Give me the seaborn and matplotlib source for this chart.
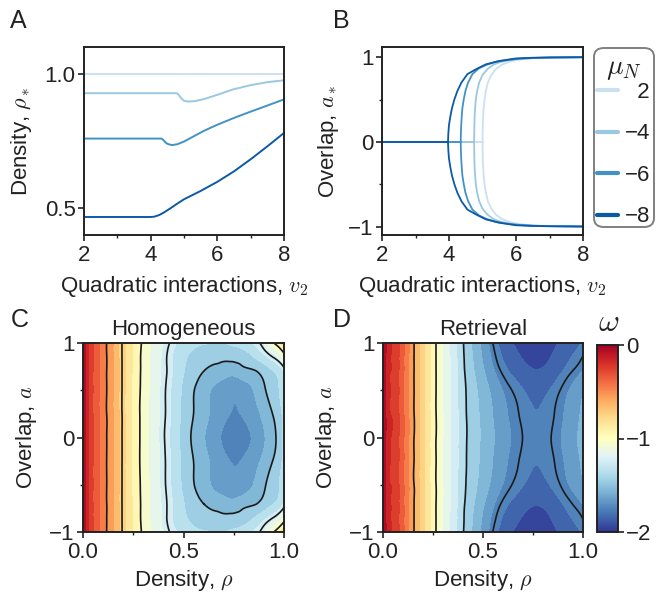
import numpy as np
import pandas as pd
import matplotlib
matplotlib.use("Agg")
import matplotlib.pyplot as plt
import matplotlib.tri as mtri
import seaborn as sns
from matplotlib.lines import Line2D
from matplotlib.colors import Normalize
from matplotlib.cm import ScalarMappable
from matplotlib.patches import FancyBboxPatch

# ---------------- data ----------------
mu_labels = ["  2", "\u22124", "\u22126", "\u22128"]
line_colors = ["#cde0f1", "#9ac8e0", "#4292c6", "#0b5aa8"]

# Panel A: density rho_* vs v2
A_v2_mu2 = [2.0, 8.0]
A_rho_mu2 = [0.999, 0.999]
A_v2_mu4 = [2.0, 4.78, 4.82, 4.87, 4.93, 5.0, 5.12, 5.3, 5.6, 6.0, 6.47, 7.0, 7.5, 8.0]
A_rho_mu4 = [0.928, 0.928, 0.925, 0.917, 0.907, 0.900, 0.897, 0.898, 0.906, 0.922, 0.942, 0.958, 0.969, 0.976]
A_v2_mu6 = [2.0, 4.33, 4.37, 4.42, 4.48, 4.56, 4.65, 4.8, 5.0, 5.3, 5.6, 5.97, 6.5, 6.97, 7.5, 8.0]
A_rho_mu6 = [0.759, 0.759, 0.755, 0.748, 0.741, 0.737, 0.735, 0.738, 0.748, 0.768, 0.788, 0.809, 0.836, 0.858, 0.882, 0.905]
A_v2_mu8 = [2.0, 3.98, 4.1, 4.25, 4.4, 4.6, 4.8, 5.0, 5.5, 6.0, 6.5, 7.0, 7.5, 8.0]
A_rho_mu8 = [0.467, 0.467, 0.468, 0.474, 0.484, 0.500, 0.517, 0.533, 0.564, 0.598, 0.637, 0.682, 0.730, 0.780]

# Panel B: overlap a_* vs v2 (upper branch; lower branch is its mirror image)
B_v2_mu2 = [5.0, 5.003, 5.008, 5.02, 5.035, 5.06, 5.1, 5.16, 5.25, 5.4, 5.57, 5.8, 6.01, 6.3, 6.61, 7.2, 8.0]
B_a_mu2 = [0.0, 0.1, 0.2, 0.3, 0.4, 0.5, 0.6, 0.7, 0.78, 0.86, 0.91, 0.945, 0.965, 0.98, 0.99, 0.996, 0.999]
B_v2_mu4 = [4.75, 4.753, 4.757, 4.765, 4.78, 4.8, 4.84, 4.9, 5.0, 5.15, 5.32, 5.55, 5.81, 6.2, 6.6, 7.2, 8.0]
B_a_mu4 = [0.0, 0.1, 0.2, 0.3, 0.4, 0.5, 0.6, 0.7, 0.79, 0.86, 0.91, 0.945, 0.965, 0.983, 0.992, 0.997, 0.999]
B_v2_mu6 = [4.35, 4.355, 4.365, 4.38, 4.40, 4.44, 4.49, 4.57, 4.7, 4.9, 5.12, 5.4, 5.71, 6.1, 6.5, 7.0, 8.0]
B_a_mu6 = [0.0, 0.1, 0.2, 0.3, 0.4, 0.5, 0.6, 0.7, 0.8, 0.87, 0.91, 0.945, 0.965, 0.982, 0.99, 0.995, 0.999]
B_v2_mu8 = [3.97, 3.98, 4.0, 4.04, 4.09, 4.16, 4.25, 4.37, 4.55, 4.82, 5.1, 5.5, 6.0, 6.5, 7.0, 8.0]
B_a_mu8 = [0.0, 0.1, 0.2, 0.3, 0.4, 0.5, 0.6, 0.7, 0.8, 0.86, 0.915, 0.955, 0.985, 0.993, 0.997, 1.0]

# Panels C, D: omega(rho, a) read on a grid (rows for a >= 0; symmetric in a)
rho_grid = [0, 0.02, 0.05, 0.1, 0.15, 0.2, 0.25, 0.3, 0.35, 0.4, 0.45, 0.5,
            0.55, 0.6, 0.65, 0.7, 0.75, 0.8, 0.85, 0.9, 0.95, 0.98, 1.0]
a_rows = [0.0, 0.25, 0.5, 0.7, 0.85, 1.0]

C_a000 = [0, -0.15, -0.30, -0.45, -0.60, -0.77, -0.92, -1.04, -1.15, -1.24, -1.34, -1.44,
          -1.52, -1.59, -1.66, -1.715, -1.745, -1.73, -1.685, -1.61, -1.52, -1.45, -1.38]
C_a025 = [0, -0.15, -0.30, -0.45, -0.60, -0.77, -0.92, -1.04, -1.145, -1.232, -1.328, -1.424,
          -1.50, -1.565, -1.625, -1.68, -1.705, -1.69, -1.64, -1.57, -1.49, -1.43, -1.365]
C_a050 = [0, -0.15, -0.30, -0.45, -0.60, -0.77, -0.917, -1.035, -1.143, -1.231, -1.325, -1.42,
          -1.495, -1.56, -1.615, -1.66, -1.685, -1.655, -1.595, -1.515, -1.445, -1.39, -1.33]
C_a070 = [0, -0.15, -0.30, -0.45, -0.60, -0.77, -0.915, -1.03, -1.135, -1.22, -1.31, -1.395,
          -1.455, -1.50, -1.53, -1.55, -1.565, -1.53, -1.51, -1.46, -1.40, -1.35, -1.29]
C_a085 = [0, -0.15, -0.30, -0.45, -0.60, -0.77, -0.915, -1.03, -1.135, -1.22, -1.31, -1.38,
          -1.43, -1.46, -1.47, -1.48, -1.47, -1.45, -1.40, -1.33, -1.24, -1.16, -1.08]
C_a100 = [0, -0.15, -0.30, -0.45, -0.60, -0.77, -0.91, -1.02, -1.12, -1.20, -1.28, -1.33,
          -1.37, -1.39, -1.40, -1.40, -1.38, -1.35, -1.29, -1.20, -1.00, -0.90, -0.80]

D_a000 = [0, -0.14, -0.22, -0.38, -0.58, -0.77, -0.95, -1.10, -1.23, -1.36, -1.45, -1.52,
          -1.59, -1.66, -1.71, -1.752, -1.78, -1.775, -1.742, -1.69, -1.63, -1.59, -1.56]
D_a025 = [0, -0.14, -0.22, -0.38, -0.58, -0.77, -0.95, -1.10, -1.231, -1.363, -1.455, -1.529,
          -1.603, -1.674, -1.725, -1.767, -1.795, -1.79, -1.756, -1.705, -1.646, -1.607, -1.578]
D_a050 = [0, -0.14, -0.22, -0.38, -0.58, -0.77, -0.95, -1.101, -1.234, -1.368, -1.466, -1.547,
          -1.628, -1.703, -1.755, -1.797, -1.825, -1.82, -1.785, -1.734, -1.677, -1.642, -1.614]
D_a070 = [0, -0.14, -0.22, -0.38, -0.58, -0.77, -0.95, -1.103, -1.239, -1.379, -1.489, -1.586,
          -1.684, -1.765, -1.82, -1.862, -1.89, -1.885, -1.847, -1.797, -1.746, -1.717, -1.692]
D_a085 = [0, -0.14, -0.22, -0.38, -0.58, -0.77, -0.95, -1.105, -1.242, -1.386, -1.504, -1.613,
          -1.722, -1.807, -1.865, -1.907, -1.935, -1.93, -1.889, -1.84, -1.793, -1.768, -1.746]
D_a100 = [0, -0.14, -0.22, -0.38, -0.58, -0.77, -0.95, -1.106, -1.245, -1.392, -1.517, -1.634,
          -1.752, -1.841, -1.90, -1.942, -1.97, -1.965, -1.923, -1.874, -1.83, -1.809, -1.788]

C_line_levels = [-1.5, -1.25, -1.0, -0.75, -0.5]
D_line_levels = [-1.75, -1.4, -1.0, -0.6]
cbar_ticks = [0, -1, -2]

# ---------------- style ----------------
sns.set_theme(style="ticks")
FS = 16
plt.rcParams.update({
    "font.family": ["Liberation Sans", "DejaVu Sans"],
    "mathtext.fontset": "cm",
    "font.size": FS,
    "axes.labelsize": FS,
    "xtick.labelsize": FS,
    "ytick.labelsize": FS,
    "axes.linewidth": 1.4,
    "axes.edgecolor": "#222222",
    "xtick.color": "#222222",
    "ytick.color": "#222222",
    "text.color": "#222222",
    "axes.labelcolor": "#222222",
    "xtick.major.size": 4, "ytick.major.size": 4,
    "xtick.minor.size": 2, "ytick.minor.size": 2,
    "xtick.major.width": 1.2, "ytick.major.width": 1.2,
    "xtick.minor.width": 1.0, "ytick.minor.width": 1.0,
    "xtick.major.pad": 3, "ytick.major.pad": 2,
    "axes.labelpad": 5,
    "axes.unicode_minus": True,
})

W, H = 667, 593
fig = plt.figure(figsize=(W / 100, H / 100), dpi=100)

def box(x0, y0, x1, y1):
    return [x0 / W, 1 - y1 / H, (x1 - x0) / W, (y1 - y0) / H]

# ---------------- panel A ----------------
axA = fig.add_axes(box(84, 47, 284, 235))
dfA = pd.concat([
    pd.DataFrame({"v2": A_v2_mu2, "val": A_rho_mu2, "mu": mu_labels[0]}),
    pd.DataFrame({"v2": A_v2_mu4, "val": A_rho_mu4, "mu": mu_labels[1]}),
    pd.DataFrame({"v2": A_v2_mu6, "val": A_rho_mu6, "mu": mu_labels[2]}),
    pd.DataFrame({"v2": A_v2_mu8, "val": A_rho_mu8, "mu": mu_labels[3]}),
], ignore_index=True)
sns.lineplot(data=dfA, x="v2", y="val", hue="mu", hue_order=mu_labels,
             palette=line_colors, estimator=None, sort=False, legend=False,
             linewidth=1.4, ax=axA)
axA.set_xlim(2, 8)
axA.set_ylim(0.4, 1.1)
axA.set_xticks([2, 4, 6, 8])
axA.set_xticks([3, 5, 7], minor=True)
axA.set_yticks([0.5, 1.0])
axA.set_yticklabels(["0.5", "1.0"])
axA.set_xlabel(r"Quadratic interactions, $v_2$", labelpad=6)
axA.set_ylabel(r"Density, $\rho_*$", labelpad=8)

# ---------------- panel B ----------------
axB = fig.add_axes(box(382, 47, 583, 235))
B_sets = [(B_v2_mu2, B_a_mu2), (B_v2_mu4, B_a_mu4), (B_v2_mu6, B_a_mu6), (B_v2_mu8, B_a_mu8)]
parts = []
for lab, (vv, aa) in zip(mu_labels, B_sets):
    parts.append(pd.DataFrame({"v2": [2.0, vv[0]], "val": [0.0, 0.0], "mu": lab, "br": lab + "z"}))
    parts.append(pd.DataFrame({"v2": vv, "val": aa, "mu": lab, "br": lab + "u"}))
    parts.append(pd.DataFrame({"v2": vv, "val": [-x for x in aa], "mu": lab, "br": lab + "l"}))
dfB = pd.concat(parts, ignore_index=True)
sns.lineplot(data=dfB, x="v2", y="val", hue="mu", hue_order=mu_labels, units="br",
             palette=line_colors, estimator=None, sort=False, legend=False,
             linewidth=1.3, ax=axB)
axB.set_xlim(2, 8)
axB.set_ylim(-1.1, 1.12)
axB.set_xticks([2, 4, 6, 8])
axB.set_xticks([3, 5, 7], minor=True)
axB.set_yticks([-1, 0, 1])
axB.set_yticks([-0.5, 0.5], minor=True)
axB.set_xlabel(r"Quadratic interactions, $v_2$", labelpad=6)
axB.set_ylabel(r"Overlap, $a_*$", labelpad=5)

# legend (entries) + framed box with the mu_N title
handles = [Line2D([0], [0], color=c, lw=3) for c in line_colors]
leg = fig.legend(handles, mu_labels, loc="upper left",
                 bbox_to_anchor=(597 / W, 1 - 82 / H), frameon=False,
                 handlelength=0.95, handletextpad=0.3, labelspacing=0.92,
                 borderpad=0, borderaxespad=0, fontsize=FS)
fig.patches.append(FancyBboxPatch((594 / W, 1 - 227 / H), 60 / W, 179 / H,
                                  boxstyle="round,pad=0,rounding_size=0.015",
                                  transform=fig.transFigure, facecolor="white",
                                  edgecolor="#808080", linewidth=1.4, zorder=0))
fig.text(624 / W, 1 - 74 / H, r"$\mu_N$", fontsize=20, ha="center", va="baseline")

# ---------------- panels C, D ----------------
fill_levels = np.linspace(-2.0, 0.0, 21)
cmap = "RdYlBu_r"
norm = Normalize(vmin=-2, vmax=0)

def build(rows):
    full_a = [-a for a in a_rows[::-1]] + a_rows[1:]
    full_rows = rows[::-1] + rows[1:]
    X, Y = np.meshgrid(np.array(rho_grid), np.array(full_a))
    return X, Y, np.array(full_rows)

def contour_panel(ax, rows, line_levels, title):
    X, Y, Z = build(rows)
    tri = mtri.Triangulation(X.ravel(), Y.ravel())
    interp = mtri.CubicTriInterpolator(tri, Z.ravel(), kind="min_E")
    tri_f, z_f = mtri.UniformTriRefiner(tri).refine_field(Z.ravel(), triinterpolator=interp,
                                                          subdiv=3)
    ax.tricontourf(tri_f, z_f, levels=fill_levels, cmap=cmap, norm=norm, extend="both")
    ax.tricontour(tri_f, z_f, levels=line_levels, colors="#1a1a1a", linewidths=1.2,
                  linestyles="solid")
    ax.set_xlim(0, 1)
    ax.set_ylim(-1, 1)
    ax.set_xticks([0, 0.5, 1])
    ax.set_xticklabels(["0.0", "0.5", "1.0"])
    ax.set_xticks([0.25, 0.75], minor=True)
    ax.set_yticks([-1, 0, 1])
    ax.set_yticks([-0.5, 0.5], minor=True)
    ax.set_xlabel(r"Density, $\rho$", labelpad=4)
    ax.set_ylabel(r"Overlap, $a$", labelpad=7)
    ax.set_title(title, fontsize=FS, pad=6)
    for s in ax.spines.values():
        s.set_zorder(5)

axC = fig.add_axes(box(83, 343, 284, 532))
contour_panel(axC, [C_a000, C_a025, C_a050, C_a070, C_a085, C_a100], C_line_levels, "Homogeneous")
axD = fig.add_axes(box(383, 343, 583, 532))
contour_panel(axD, [D_a000, D_a025, D_a050, D_a070, D_a085, D_a100], D_line_levels, "Retrieval")

cax = fig.add_axes(box(597, 345, 618, 532))
sm = ScalarMappable(norm=norm, cmap=cmap)
cb = fig.colorbar(sm, cax=cax, ticks=cbar_ticks)
cb.ax.set_yticklabels(["0", "\u22121", "\u22122"])
cb.outline.set_linewidth(1.4)
cb.outline.set_edgecolor("#222222")
fig.text(609 / W, 1 - 331 / H, r"$\omega$", fontsize=23, ha="center", va="baseline")

# panel letters
for lab, (px, py) in {"A": (10, 28), "B": (333, 28), "C": (11, 327), "D": (333, 327)}.items():
    fig.text(px / W, 1 - py / H, lab, fontsize=18, ha="left", va="baseline")

fig.savefig("out.png", dpi=100)
